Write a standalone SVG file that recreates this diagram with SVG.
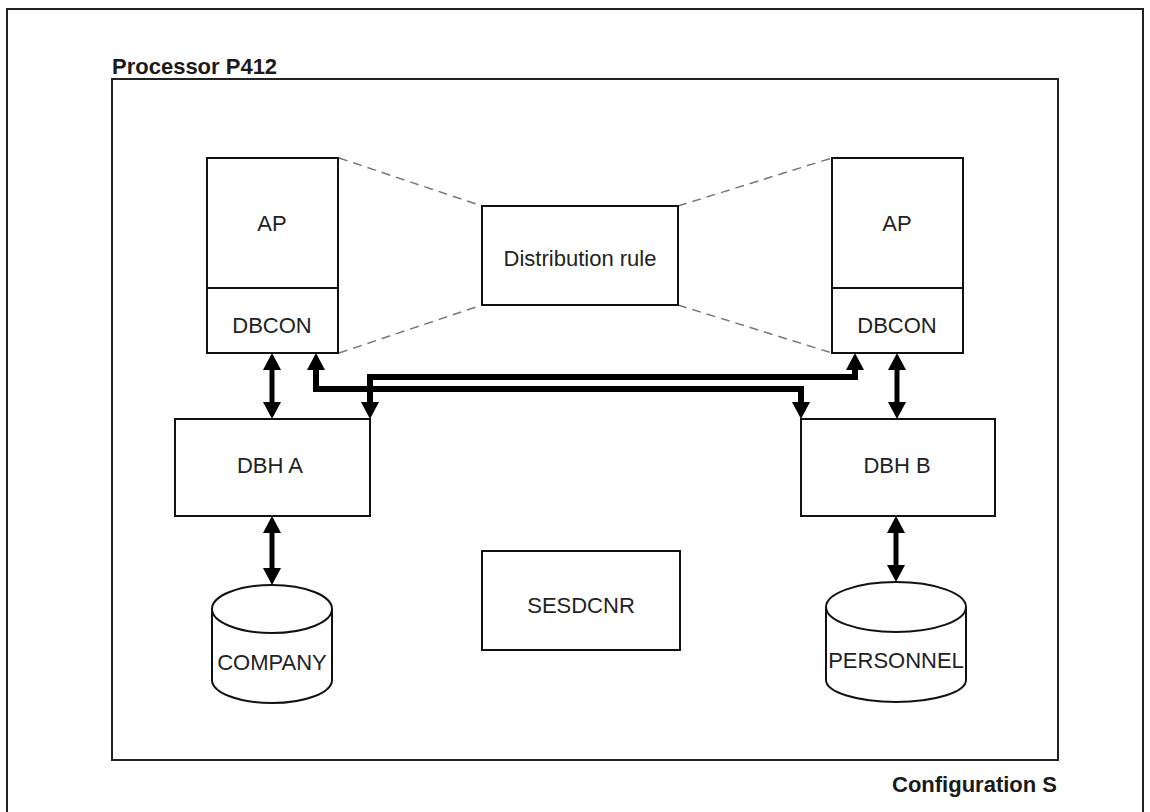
<svg xmlns="http://www.w3.org/2000/svg" width="1150" height="812" viewBox="0 0 1150 812">
<defs>
<style>
.box{fill:#fff;stroke:#111;stroke-width:2}
.frame{fill:none;stroke:#222;stroke-width:2}
.lbl{font-family:"Liberation Sans",Arial,sans-serif;font-size:22px;fill:#222;text-anchor:middle}
.ttl{font-family:"Liberation Sans",Arial,sans-serif;font-size:22px;font-weight:bold;fill:#1a1a1a}
.dash{stroke:#777;stroke-width:1.5;stroke-dasharray:9,6;fill:none}
.dbl{stroke:#000;stroke-width:5;fill:none;marker-start:url(#ah);marker-end:url(#ah)}
.thick{stroke:#000;stroke-width:6;fill:none;stroke-linejoin:miter;marker-start:url(#ah);marker-end:url(#ah)}
</style>
<marker id="ah" viewBox="0 0 17 18" markerWidth="17" markerHeight="18" refX="8" refY="9" orient="auto-start-reverse" markerUnits="userSpaceOnUse">
<path d="M0,0 L17,9 L0,18 z" fill="#000"/>
</marker>
</defs>
<rect width="1150" height="812" fill="#fff"/>
<path class="frame" d="M7,812 V9 H1143 V812"/>
<text class="ttl" x="112" y="74">Processor P412</text>
<rect id="processor" class="frame" x="112" y="79" width="946" height="681"/>
<text class="ttl" x="892" y="792">Configuration S</text>

<g id="dashed-links">
<line class="dash" x1="339" y1="158" x2="482" y2="206"/>
<line class="dash" x1="339" y1="353" x2="482" y2="305"/>
<line class="dash" x1="678" y1="206" x2="832" y2="158"/>
<line class="dash" x1="678" y1="305" x2="832" y2="353"/>
</g>

<g id="ap-left">
<rect class="box" x="207" y="158" width="131" height="195"/>
<line x1="207" y1="288" x2="338" y2="288" stroke="#111" stroke-width="2"/>
<text class="lbl" x="272" y="231">AP</text>
<text class="lbl" x="272" y="333">DBCON</text>
</g>

<g id="ap-right">
<rect class="box" x="832" y="158" width="131" height="195"/>
<line x1="832" y1="288" x2="963" y2="288" stroke="#111" stroke-width="2"/>
<text class="lbl" x="897" y="231">AP</text>
<text class="lbl" x="897" y="333">DBCON</text>
</g>

<g id="distribution-rule">
<rect class="box" x="482" y="206" width="196" height="99"/>
<text class="lbl" x="580" y="266">Distribution rule</text>
</g>

<g id="dbh-a">
<rect class="box" x="175" y="419" width="195" height="97"/>
<text class="lbl" x="270" y="473">DBH A</text>
</g>

<g id="dbh-b">
<rect class="box" x="801" y="419" width="194" height="97"/>
<text class="lbl" x="897" y="473">DBH B</text>
</g>

<g id="sesdcnr">
<rect class="box" x="482" y="551" width="198" height="99"/>
<text class="lbl" x="581" y="613">SESDCNR</text>
</g>

<g id="company">
<path class="box" d="M212,609 V680 A60,23 0 0 0 332,680 V609"/>
<ellipse class="box" cx="272" cy="609" rx="60" ry="24"/>
<text class="lbl" x="272" y="670">COMPANY</text>
</g>

<g id="personnel">
<path class="box" d="M826,607 V680 A70,22 0 0 0 966,680 V607"/>
<ellipse class="box" cx="896" cy="607" rx="70" ry="25"/>
<text class="lbl" x="896" y="668">PERSONNEL</text>
</g>

<g id="connectors">
<line class="dbl" x1="272" y1="362" x2="272" y2="410"/>
<line class="dbl" x1="897" y1="362" x2="897" y2="410"/>
<line class="dbl" x1="272" y1="525" x2="272" y2="576"/>
<line class="dbl" x1="896" y1="525" x2="896" y2="573"/>
<path class="thick" d="M316,362 V389 H801 V410"/>
<path class="thick" d="M370,410 V377 H855 V362"/>
</g>
</svg>
